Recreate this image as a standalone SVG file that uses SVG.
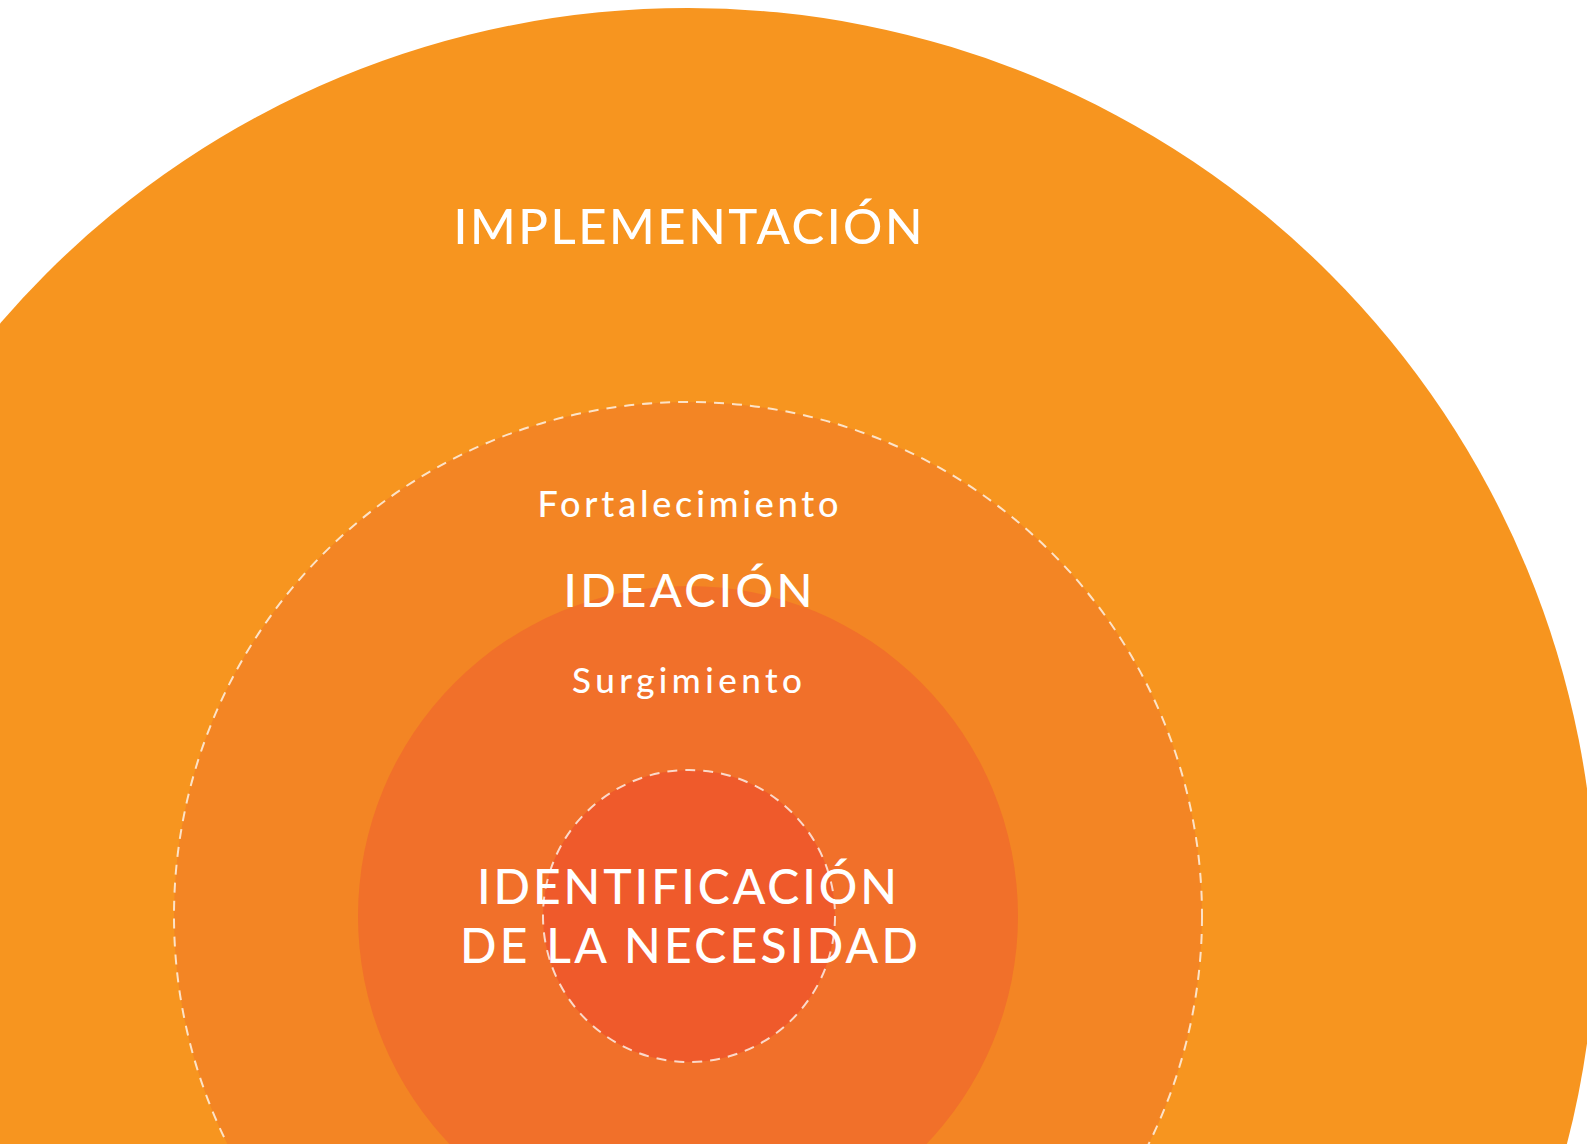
<svg xmlns="http://www.w3.org/2000/svg" width="1587" height="1144" viewBox="0 0 1587 1144">
  <style>
    .lbl { font-family: Lato, "Open Sans", "Liberation Sans", sans-serif; font-weight: 500; fill: #ffffff; text-anchor: middle; }
    .dash { fill: none; stroke: #ffffff; stroke-opacity: 0.75; stroke-width: 2; stroke-dasharray: 10 8; }
  </style>
  <rect x="0" y="0" width="1587" height="1144" fill="#ffffff"/>
  <g id="implementacion">
    <circle cx="688" cy="916" r="908" fill="#F7951F"/>
  </g>
  <g id="ideacion">
    <circle cx="688" cy="916" r="514" fill="#F38524"/>
    <circle class="dash" cx="688" cy="916" r="514"/>
  </g>
  <g id="surgimiento">
    <circle cx="688" cy="916" r="330" fill="#F1702A"/>
  </g>
  <g id="identificacion">
    <circle cx="689" cy="916" r="146" fill="#EF5A2B"/>
    <circle class="dash" cx="689" cy="916" r="146"/>
  </g>
  <g id="labels">
    <text id="label-implementacion" class="lbl" x="688" y="244" font-size="49" textLength="469" lengthAdjust="spacing">IMPLEMENTACIÓN</text>
    <text id="label-fortalecimiento" class="lbl" x="688" y="517" font-size="36" textLength="301" lengthAdjust="spacing">Fortalecimiento</text>
    <text id="label-ideacion" class="lbl" x="688" y="607" font-size="47" textLength="249" lengthAdjust="spacing">IDEACIÓN</text>
    <text id="label-surgimiento" class="lbl" x="687" y="693" font-size="35" textLength="230" lengthAdjust="spacing">Surgimiento</text>
    <text id="label-identificacion-1" class="lbl" x="687" y="904" font-size="48" textLength="420" lengthAdjust="spacing">IDENTIFICACIÓN</text>
    <text id="label-identificacion-2" class="lbl" x="689" y="963" font-size="48" textLength="458" lengthAdjust="spacing">DE LA NECESIDAD</text>
  </g>
</svg>
